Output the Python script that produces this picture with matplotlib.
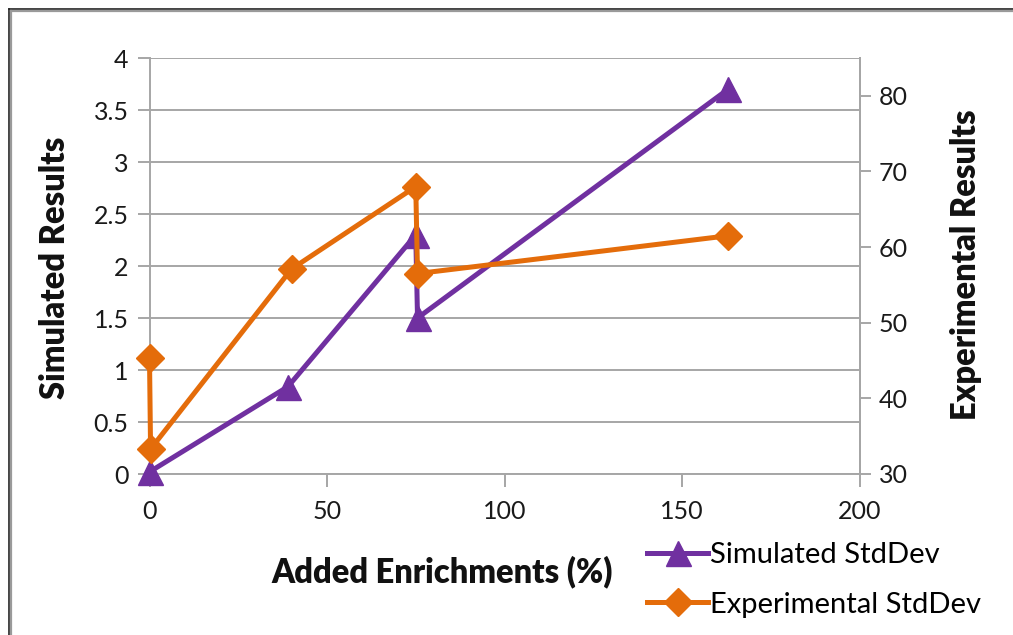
import matplotlib
matplotlib.use("Agg")
import matplotlib.pyplot as plt
from matplotlib.lines import Line2D

# Data
sim_x = [0, 39, 75, 75.5, 163]
sim_y = [0.02, 0.84, 2.30, 1.50, 3.70]
exp_x = [0, 0.3, 40, 75, 75.5, 163]
exp_y = [45.3, 33.3, 57.1, 68.0, 56.5, 61.5]
x_ticks = [0, 50, 100, 150, 200]
left_ticks = [0, 0.5, 1, 1.5, 2, 2.5, 3, 3.5, 4]
left_labels = ["0", "0.5", "1", "1.5", "2", "2.5", "3", "3.5", "4"]
right_ticks = [30, 40, 50, 60, 70, 80]

PURPLE = "#7030A0"
ORANGE = "#E46C0A"
GRID = "#A6A6A6"
FONT = "Lato"

W, H = 1013, 635
fig = plt.figure(figsize=(W / 100, H / 100), dpi=100)
plt.rcParams["font.family"] = [FONT, "DejaVu Sans"]

x0, x1 = 149.5, 859.5
y0, y1 = 474, 58
ax = fig.add_axes([x0 / W, 1 - y0 / H, (x1 - x0) / W, (y0 - y1) / H])
ax2 = ax.twinx()

ax.set_xlim(0, 200)
ax.set_ylim(0, 4)
ax2.set_ylim(30, 85)

ax.set_yticks(left_ticks)
ax.set_yticklabels(left_labels)
ax.set_xticks(x_ticks)
ax2.set_yticks(right_ticks)

ax.grid(axis="y", color=GRID, linewidth=1.4)
ax.set_axisbelow(True)

for a in (ax, ax2):
    for s in a.spines.values():
        s.set_color(GRID)
        s.set_linewidth(1.4)
ax.spines["top"].set_visible(False)
ax2.spines["top"].set_visible(False)
ax2.spines["left"].set_visible(False)
ax2.spines["bottom"].set_visible(False)

ax.tick_params(axis="both", direction="out", length=9, width=1.4, color=GRID,
               labelsize=18, labelcolor="#1a1a1a", pad=6)
ax.tick_params(axis="x", pad=10)
ax2.tick_params(axis="y", direction="out", length=8, width=1.4, color=GRID,
                labelsize=18, labelcolor="#1a1a1a", pad=6)

ax.plot(sim_x, sim_y, color=PURPLE, linewidth=3.6, marker="^", markersize=18,
        clip_on=False, zorder=3)
ax2.plot(exp_x, exp_y, color=ORANGE, linewidth=3.6, marker="D", markersize=14,
         clip_on=False, zorder=3)

fig.text(55 / W, 1 - 268 / H, "Simulated Results", rotation=90, ha="center",
         va="center", fontsize=23.5, fontweight="heavy", color="#111111")
fig.text(966 / W, 1 - 265 / H, "Experimental Results", rotation=90, ha="center",
         va="center", fontsize=23.5, fontweight="heavy", color="#111111")
fig.text(442 / W, 1 - 572 / H, "Added Enrichments (%)", ha="center",
         va="center", fontsize=23.5, fontweight="heavy", color="#111111")

handles = [
    Line2D([], [], color=PURPLE, linewidth=3.6, marker="^", markersize=18),
    Line2D([], [], color=ORANGE, linewidth=3.6, marker="D", markersize=14),
]
fig.legend(handles, ["Simulated StdDev", "Experimental StdDev"],
           loc="center left", bbox_to_anchor=(647 / W, 1 - 580 / H),
           frameon=False, fontsize=21, handlelength=2.1, handletextpad=0.05,
           labelspacing=0.8, borderpad=0, borderaxespad=0)

# outer chart frame
fig.add_artist(Line2D([9 / W, 9 / W], [0, 1 - 9 / H], transform=fig.transFigure,
                      color="#222222", linewidth=1.2))
fig.add_artist(Line2D([9 / W, 1], [1 - 9 / H, 1 - 9 / H], transform=fig.transFigure,
                      color="#222222", linewidth=1.2))
fig.add_artist(Line2D([11 / W, 11 / W], [0, 1 - 11 / H], transform=fig.transFigure,
                      color="#9a9a9a", linewidth=1.6))
fig.add_artist(Line2D([11 / W, 1], [1 - 11 / H, 1 - 11 / H], transform=fig.transFigure,
                      color="#9a9a9a", linewidth=1.6))

fig.savefig("out.png", dpi=100)
